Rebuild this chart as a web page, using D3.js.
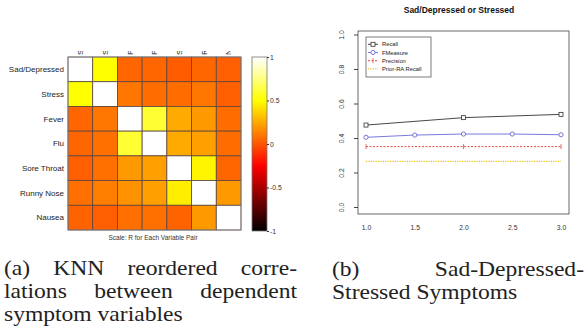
<!DOCTYPE html>
<html>
<head>
  <meta charset="utf-8">
  <title>Symptom correlations</title>
  <style>
    body { margin: 0; background: #fff; }
    svg { display: block; }
  </style>
</head>
<body>
  <svg width="585" height="333"></svg>
  <script src="https://d3js.org/d3.v7.min.js"></script>
  <script>
    // ---- data ----
    var symptoms = ["Sad/Depressed", "Stress", "Fever", "Flu", "Sore Throat", "Runny Nose", "Nausea"];
    var corr = [
      [1.00, 0.50, 0.05, 0.05, 0.02, 0.05, 0.03],
      [0.50, 1.00, 0.10, 0.07, 0.07, 0.10, 0.03],
      [0.05, 0.10, 1.00, 0.60, 0.25, 0.20, 0.07],
      [0.05, 0.08, 0.60, 1.00, 0.25, 0.22, 0.07],
      [0.03, 0.08, 0.20, 0.22, 1.00, 0.47, 0.05],
      [0.08, 0.12, 0.18, 0.22, 0.45, 1.00, 0.20],
      [0.04, 0.03, 0.08, 0.08, 0.04, 0.20, 1.00]
    ];
    var colorTicks = [1, 0.5, 0, -0.5, -1];

    var recallX = [1, 2, 3];
    var recall = [0.475, 0.518, 0.537];
    var fmeasureX = [1, 1.5, 2, 2.5, 3];
    var fmeasure = [0.404, 0.417, 0.423, 0.423, 0.419];
    var precisionX = [1, 2, 3];
    var precision = [0.35, 0.35, 0.35];
    var priorX = [1, 2, 3];
    var prior = [0.265, 0.265, 0.265];
    var xTicks = [1.0, 1.5, 2.0, 2.5, 3.0];
    var yTicks = [0.0, 0.2, 0.4, 0.6, 0.8, 1.0];

    var svg = d3.select("svg");

    // hot colormap: black -> red -> yellow -> white
    function hot(v) {
      var t = (v + 1) / 2;
      var r = Math.min(1, t / 0.375),
        g = Math.max(0, Math.min(1, (t - 0.375) / 0.375)),
        b = Math.max(0, Math.min(1, (t - 0.75) / 0.25));
      return d3.rgb(r * 255, g * 255, b * 255).formatHex();
    }

    // ---- (a) heatmap ----
    var hx = d3.scaleBand().domain(symptoms).range([68, 241]);
    var hy = d3.scaleBand().domain(symptoms).range([57, 230]);

    var heat = svg.append("g").attr("font-family", "Liberation Sans, Arial, sans-serif");

    var cells = [];
    corr.forEach(function (row, i) {
      row.forEach(function (v, j) { cells.push({ r: symptoms[i], c: symptoms[j], v: v }); });
    });

    heat.selectAll("rect.cell")
      .data(cells)
      .enter().append("rect")
      .attr("class", "cell")
      .attr("x", function (d) { return hx(d.c); })
      .attr("y", function (d) { return hy(d.r); })
      .attr("width", hx.bandwidth())
      .attr("height", hy.bandwidth())
      .attr("fill", function (d) { return hot(d.v); })
      .attr("stroke", "#5a4540")
      .attr("stroke-width", 0.8);

    heat.append("rect")
      .attr("x", 68).attr("y", 57).attr("width", 173).attr("height", 173)
      .attr("fill", "none").attr("stroke", "#888").attr("stroke-width", 0.8);

    heat.selectAll("text.row")
      .data(symptoms)
      .enter().append("text")
      .attr("class", "row")
      .attr("x", 64)
      .attr("y", function (d) { return hy(d) + hy.bandwidth() / 2; })
      .attr("dy", "0.35em")
      .attr("text-anchor", "end")
      .attr("font-size", 8)
      .attr("fill", "#222")
      .text(function (d) { return d; });

    // column labels, cut off at the top of the picture
    svg.append("clipPath").attr("id", "colclip")
      .append("rect").attr("x", 60).attr("y", 51).attr("width", 190).attr("height", 5);

    heat.append("g").attr("clip-path", "url(#colclip)")
      .selectAll("text")
      .data(symptoms)
      .enter().append("text")
      .attr("transform", function (d) { return "translate(" + (hx(d) + hx.bandwidth() / 2) + ",55)rotate(-90)"; })
      .attr("dy", "0.35em")
      .attr("font-size", 8)
      .attr("fill", "#222")
      .text(function (d) { return d; });

    heat.append("text")
      .attr("x", 153).attr("y", 238).attr("dy", "0.35em")
      .attr("text-anchor", "middle")
      .attr("font-size", 6.5)
      .attr("fill", "#333")
      .text("Scale: R for Each Variable Pair");

    // colour bar
    var cs = d3.scaleLinear().domain([-1, 1]).range([231, 57]);
    var grad = svg.append("defs").append("linearGradient")
      .attr("id", "hotgrad").attr("x1", 0).attr("y1", 1).attr("x2", 0).attr("y2", 0);
    d3.range(-1, 1.001, 0.05).forEach(function (v) {
      grad.append("stop").attr("offset", (v + 1) / 2).attr("stop-color", hot(v));
    });
    heat.append("rect")
      .attr("x", 252).attr("y", 57).attr("width", 15).attr("height", 174)
      .attr("fill", "url(#hotgrad)").attr("stroke", "#777").attr("stroke-width", 0.8);

    var cbar = heat.append("g")
      .attr("transform", "translate(267,0)")
      .call(d3.axisRight(cs).tickValues(colorTicks).tickSize(2).tickPadding(1)
        .tickFormat(function (d) { return String(d); }));
    cbar.select(".domain").remove();
    cbar.selectAll("line").attr("stroke", "#333");
    cbar.selectAll("text").attr("font-size", 6.8).attr("fill", "#333").attr("font-family", "Liberation Sans, Arial, sans-serif");

    // ---- (b) line chart ----
    var px = d3.scaleLinear().domain([1, 3]).range([366, 561]);
    var py = d3.scaleLinear().domain([0, 1]).range([207, 34.5]);

    var plot = svg.append("g").attr("font-family", "Liberation Sans, Arial, sans-serif");

    plot.append("text")
      .attr("x", 459).attr("y", 13)
      .attr("text-anchor", "middle")
      .attr("font-size", 8.5).attr("font-weight", "bold")
      .attr("fill", "#111")
      .text("Sad/Depressed or Stressed");

    plot.append("rect")
      .attr("x", 358).attr("y", 31).attr("width", 211).attr("height", 183)
      .attr("fill", "none").attr("stroke", "#444").attr("stroke-width", 0.8);

    var yAx = plot.append("g")
      .attr("transform", "translate(358,0)")
      .call(d3.axisLeft(py).tickValues(yTicks).tickSize(4).tickFormat(d3.format(".1f")));
    yAx.select(".domain").remove();
    yAx.selectAll("line").attr("stroke", "#444");
    yAx.selectAll("text")
      .attr("font-size", 6.8).attr("fill", "#333")
      .attr("font-family", "Liberation Sans, Arial, sans-serif")
      .attr("text-anchor", "middle")
      .attr("x", null)
      .attr("transform", "translate(-16,0)rotate(-90)")
      .attr("y", 0).attr("dy", "0.35em");

    var xAx = plot.append("g")
      .attr("transform", "translate(0,214)")
      .call(d3.axisBottom(px).tickValues(xTicks).tickSize(0).tickPadding(11).tickFormat(d3.format(".1f")));
    xAx.select(".domain").remove();
    xAx.selectAll("text").attr("font-size", 6.8).attr("fill", "#333")
      .attr("font-family", "Liberation Sans, Arial, sans-serif");

    var line = d3.line()
      .x(function (d) { return px(d[0]); })
      .y(function (d) { return py(d[1]); });

    var series = [
      { name: "Recall", xs: recallX, ys: recall, color: "#333333", dash: null, width: 0.9, mark: "square" },
      { name: "FMeasure", xs: fmeasureX, ys: fmeasure, color: "#6a6ad8", dash: null, width: 0.9, mark: "circle" },
      { name: "Precision", xs: precisionX, ys: precision, color: "#e04848", dash: "2,1.5", width: 1, mark: "tick" },
      { name: "Prior-RA Recall", xs: priorX, ys: prior, color: "#e6c228", dash: "1.2,1.2", width: 1.2, mark: "none" }
    ];

    function drawMark(g, kind, x, y, color) {
      if (kind === "square") {
        g.append("rect").attr("x", x - 2).attr("y", y - 2).attr("width", 4).attr("height", 4)
          .attr("fill", "#fff").attr("stroke", color).attr("stroke-width", 0.8);
      } else if (kind === "circle") {
        g.append("circle").attr("cx", x).attr("cy", y).attr("r", 2.1)
          .attr("fill", "#fff").attr("stroke", color).attr("stroke-width", 0.9);
      } else if (kind === "tick") {
        g.append("line").attr("x1", x).attr("x2", x).attr("y1", y - 2.5).attr("y2", y + 2.5)
          .attr("stroke", color).attr("stroke-width", 0.8);
      }
    }

    series.forEach(function (s) {
      var pts = s.xs.map(function (x, i) { return [x, s.ys[i]]; });
      var g = plot.append("g");
      g.append("path")
        .attr("d", line(pts))
        .attr("fill", "none")
        .attr("stroke", s.color)
        .attr("stroke-width", s.width)
        .attr("stroke-dasharray", s.dash);
      pts.forEach(function (p) { drawMark(g, s.mark, px(p[0]), py(p[1]), s.color); });
    });

    // legend
    var leg = plot.append("g");
    leg.append("rect")
      .attr("x", 366).attr("y", 37).attr("width", 65).attr("height", 40)
      .attr("fill", "#fff").attr("stroke", "#444").attr("stroke-width", 0.7);
    var legItems = leg.selectAll("g.item")
      .data(series)
      .enter().append("g")
      .attr("class", "item")
      .attr("transform", function (d, i) { return "translate(0," + (44.3 + i * 8.2) + ")"; });
    legItems.append("line")
      .attr("x1", 368).attr("x2", 378)
      .attr("stroke", function (d) { return d.color; })
      .attr("stroke-width", function (d) { return d.width; })
      .attr("stroke-dasharray", function (d) { return d.dash; });
    legItems.each(function (d) { drawMark(d3.select(this), d.mark, 373, 0, d.color); });
    legItems.append("text")
      .attr("x", 382).attr("dy", "0.35em")
      .attr("font-size", 5.8).attr("fill", "#222")
      .text(function (d) { return d.name; });

    // ---- captions (type is a little wider than tall in the reference) ----
    var sx = 1.15;
    var cap = svg.append("g")
      .attr("transform", "scale(" + sx + ",1)")
      .attr("font-family", "Liberation Serif, Times New Roman, serif")
      .attr("font-size", 20.5)
      .attr("fill", "#222");

    function justified(words, x0, x1, y) {
      var t = cap.selectAll(null).data(words).enter().append("text").attr("y", y).text(function (d) { return d; });
      var widths = t.nodes().map(function (n) { return n.getComputedTextLength(); });
      var total = d3.sum(widths);
      var a = x0 / sx, b = x1 / sx;
      var gap = words.length > 1 ? (b - a - total) / (words.length - 1) : 0;
      var x = a;
      t.attr("x", function (d, i) { var xi = x; x += widths[i] + gap; return xi; });
    }

    justified(["(a)", "KNN", "reordered", "corre-"], 4, 297, 275);
    justified(["lations", "between", "dependent"], 4, 297, 298);
    cap.append("text").attr("x", 4 / sx).attr("y", 321).text("symptom variables");

    justified(["(b)", "Sad-Depressed-"], 332, 584, 276);
    cap.append("text").attr("x", 332 / sx).attr("y", 299).text("Stressed Symptoms");
  </script>
</body>
</html>
